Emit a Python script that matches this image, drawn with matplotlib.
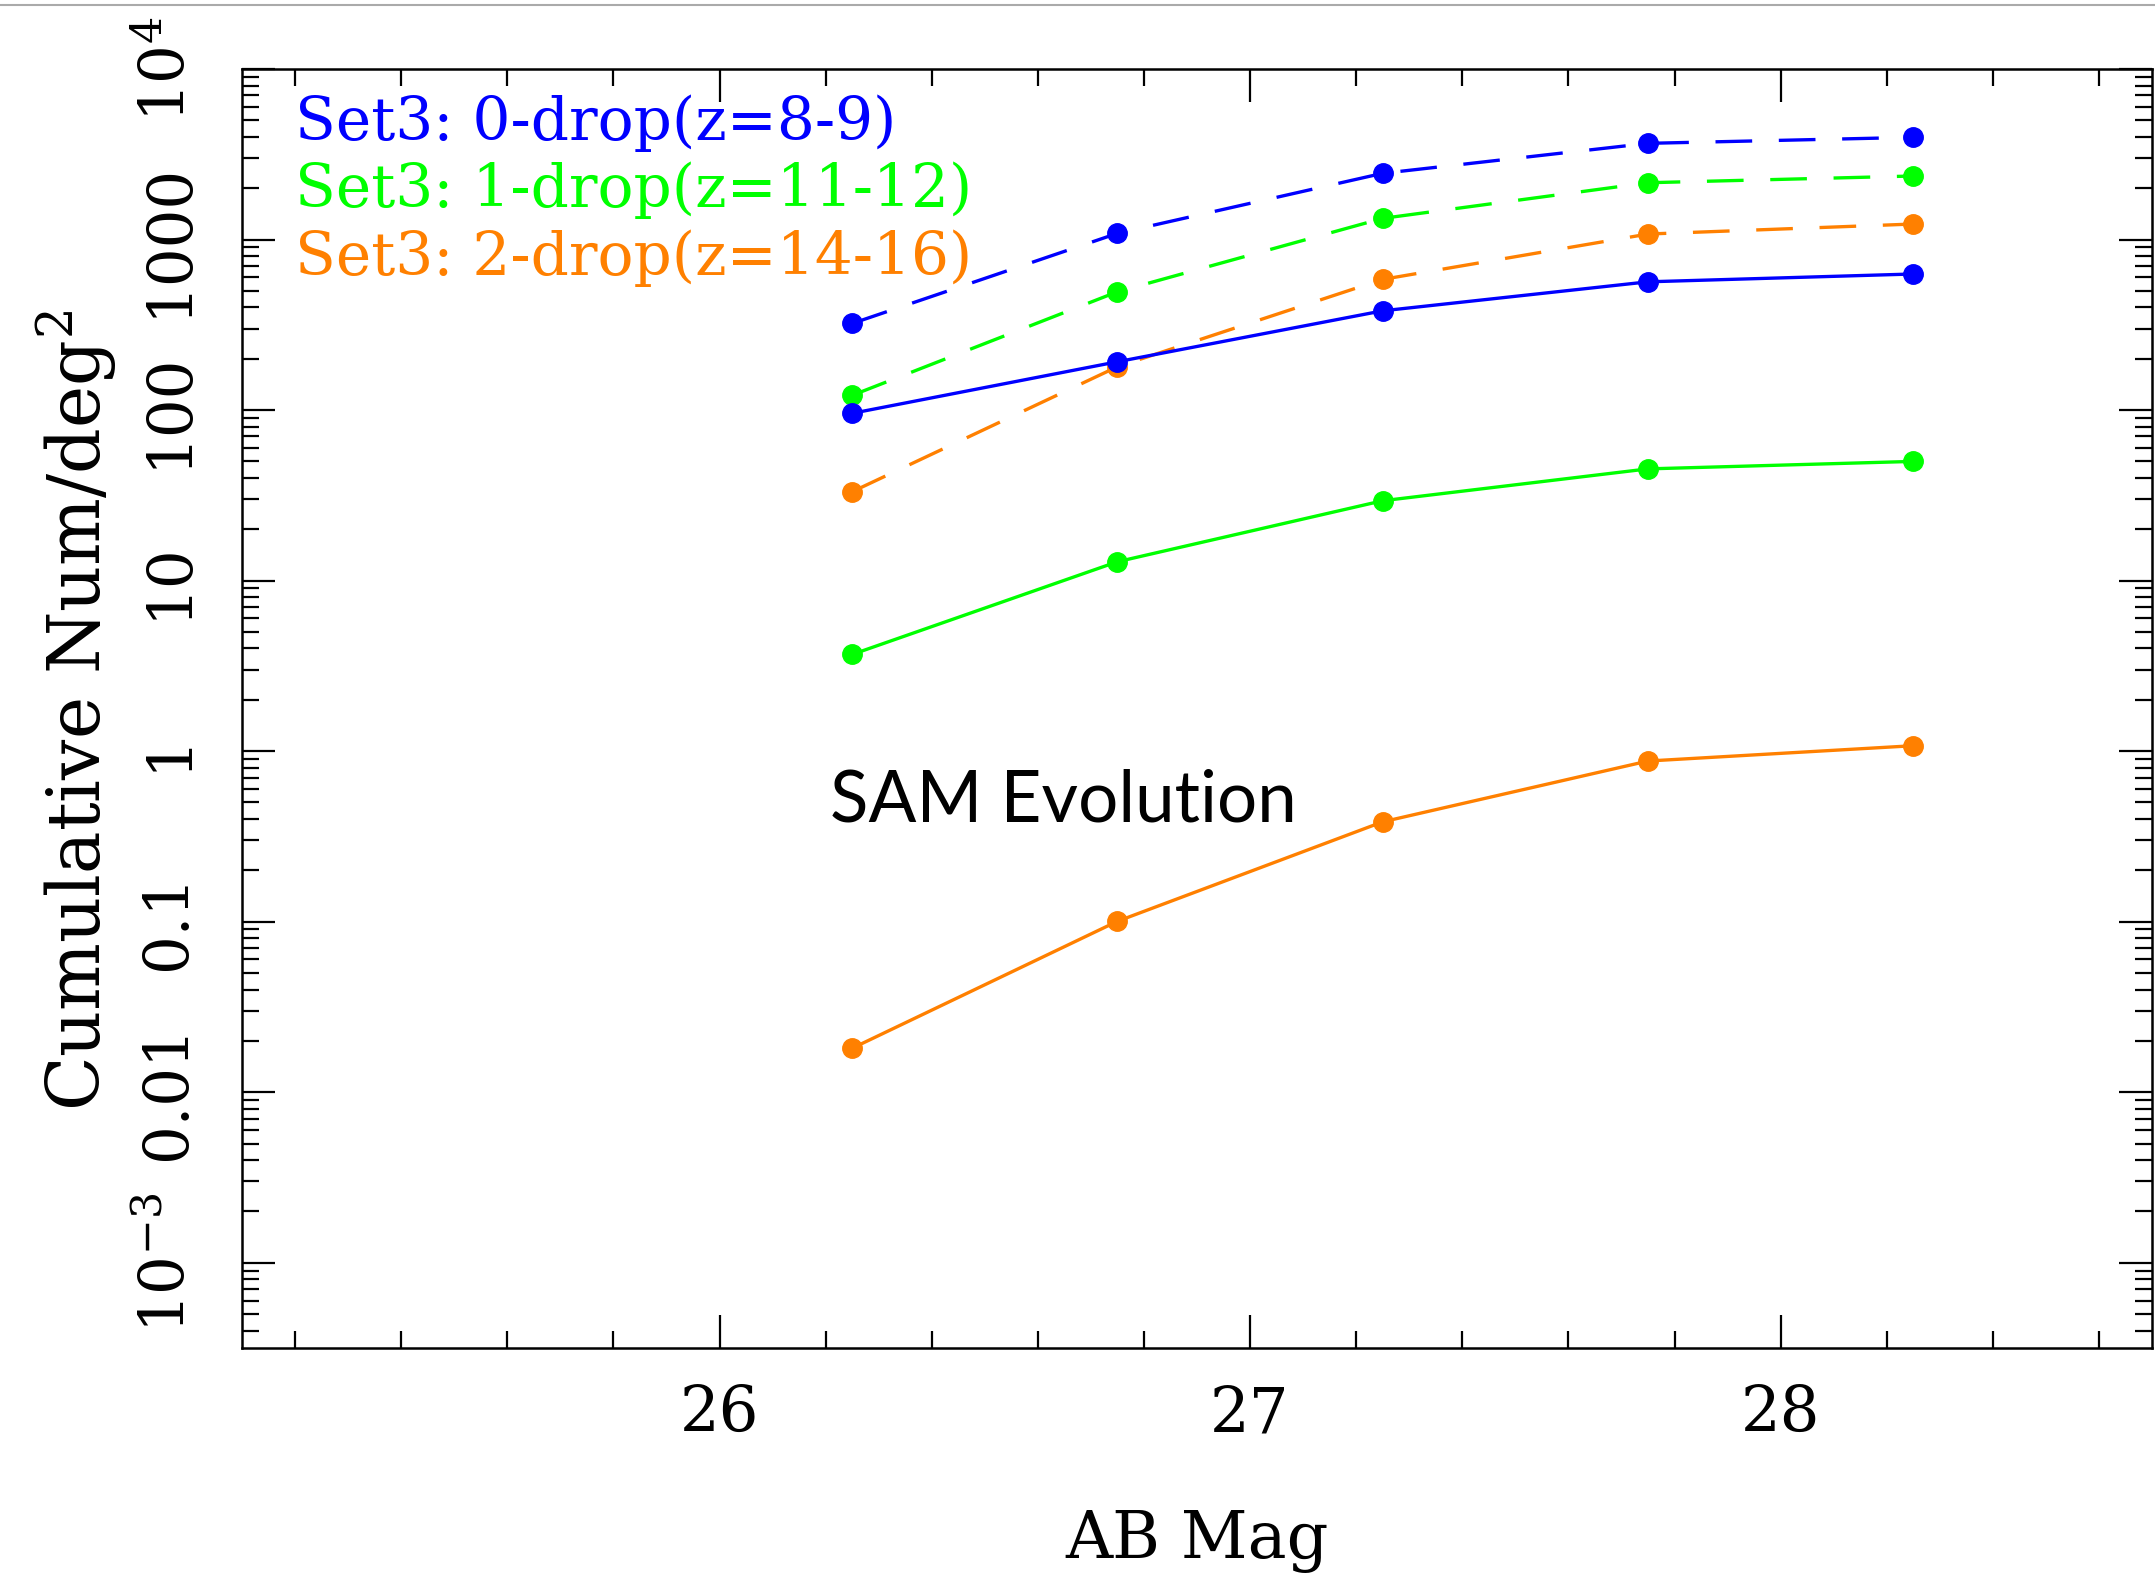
import matplotlib
matplotlib.use("Agg")
import matplotlib.pyplot as plt
from matplotlib.ticker import FixedLocator, FixedFormatter, MultipleLocator, LogLocator, NullFormatter
from matplotlib.lines import Line2D

plt.rcParams['font.family'] = ['DejaVu Serif']
plt.rcParams['mathtext.fontset'] = 'custom'
plt.rcParams['mathtext.rm'] = 'DejaVu Serif'
plt.rcParams['mathtext.it'] = 'DejaVu Serif'
plt.rcParams['mathtext.default'] = 'rm'

# ---- data ----
mag = [26.25, 26.75, 27.25, 27.75, 28.25]

blue_dashed = [322, 1087, 2445, 3665, 3975]
green_dashed = [122, 494, 1331, 2153, 2358]
orange_dashed = [33.2, 179.5, 584, 1077, 1233]

blue_solid = [95.7, 192, 382, 565, 628]
green_solid = [3.69, 12.9, 29.4, 45.2, 50.0]
orange_solid = [0.0181, 0.1005, 0.385, 0.875, 1.076]

legend_labels = ["Set3: 0-drop(z=8-9)", "Set3: 1-drop(z=11-12)", "Set3: 2-drop(z=14-16)"]
ytick_vals = [1e-3, 1e-2, 1e-1, 1, 10, 100, 1000, 1e4]
ytick_labels = ["10$^{-3}$", "0.01", "0.1", "1", "10", "100", "1000", "10$^{4}$"]
xtick_vals = [26, 27, 28]
xtick_labels = ["26", "27", "28"]

BLUE = "#0000ff"
GREEN = "#00ff00"
ORANGE = "#ff8000"

fig = plt.figure(figsize=(21.55, 15.84), dpi=100)
ax = fig.add_axes([242/2155, 1 - 1348/1584, 1910/2155, 1279/1584])

lw = 2.4
ms = 14
dash = (11, 8)
for ys, c in [(blue_dashed, BLUE), (green_dashed, GREEN), (orange_dashed, ORANGE)]:
    ax.plot(mag, ys, color=c, lw=lw, ls=(0, dash), marker='o', ms=ms, mec=c, mfc=c)
for ys, c in [(blue_solid, BLUE), (green_solid, GREEN), (orange_solid, ORANGE)]:
    ax.plot(mag, ys, color=c, lw=lw, ls='-', marker='o', ms=ms, mec=c, mfc=c)

ax.set_yscale('log')
ax.set_xlim(25.1, 28.7)
ax.set_ylim(10**-3.5, 1e4)

ax.xaxis.set_major_locator(FixedLocator(xtick_vals))
ax.xaxis.set_major_formatter(FixedFormatter(xtick_labels))
ax.xaxis.set_minor_locator(MultipleLocator(0.2))
ax.yaxis.set_major_locator(FixedLocator(ytick_vals))
ax.yaxis.set_major_formatter(FixedFormatter(ytick_labels))
ax.yaxis.set_minor_locator(LogLocator(base=10, subs=[2, 3, 4, 5, 6, 7, 8, 9], numticks=20))
ax.yaxis.set_minor_formatter(NullFormatter())

ax.tick_params(which='both', direction='in', top=True, right=True, width=1.6, colors='black')
ax.tick_params(which='major', length=23.8)
ax.tick_params(which='minor', length=12.2)
ax.tick_params(axis='x', which='major', labelsize=45, pad=26)
ax.tick_params(axis='y', which='major', labelsize=44, pad=32)
for lab in ax.get_yticklabels():
    lab.set_rotation(90)
    lab.set_va('center')
    lab.set_ha('right')

for sp in ax.spines.values():
    sp.set_linewidth(1.8)

ax.set_xlabel("AB Mag", fontsize=47, labelpad=46)
fig.text(76/2155, 1 - 710/1584, "Cumulative Num/deg$^{2}$", fontsize=51.5,
         rotation=90, ha='center', va='center')

for i, (lab, c) in enumerate(zip(legend_labels, [BLUE, GREEN, ORANGE])):
    yy = [0.9575, 0.9052, 0.852][i]
    ax.text(0.0277, yy, lab, color=c, fontsize=43, transform=ax.transAxes,
            ha='left', va='center')

ax.text(830, 1584 - 821, "SAM Evolution", fontsize=51, family=['Lato', 'DejaVu Sans'],
        transform=None, ha='left', va='baseline')

# gray line at top
fig.add_artist(Line2D([0, 1], [1 - 5/1584, 1 - 5/1584], color='#aaaaaa', lw=1.5,
                      transform=fig.transFigure))

fig.savefig("out.png", dpi=100)
